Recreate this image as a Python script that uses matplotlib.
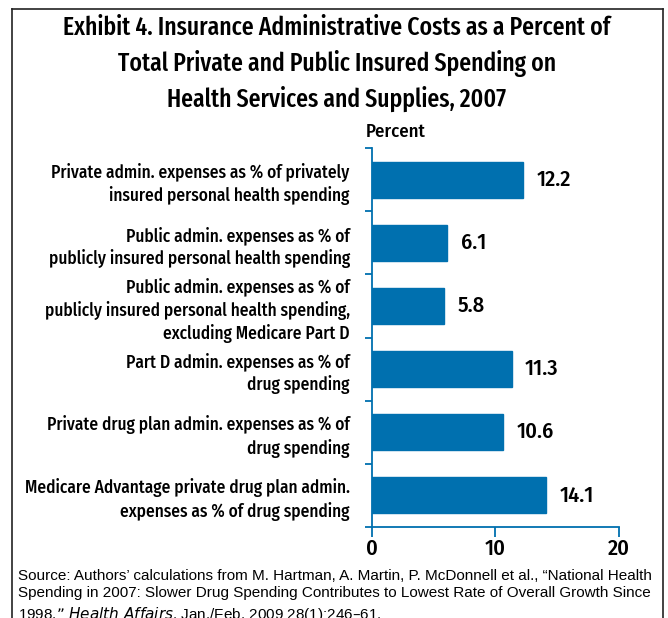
import matplotlib
matplotlib.use("Agg")
import matplotlib.pyplot as plt
from matplotlib.lines import Line2D

categories = [
    "Private admin. expenses as % of privately\ninsured personal health spending",
    "Public admin. expenses as % of\npublicly insured personal health spending",
    "Public admin. expenses as % of\npublicly insured personal health spending,\nexcluding Medicare Part D",
    "Part D admin. expenses as % of\ndrug spending",
    "Private drug plan admin. expenses as % of\ndrug spending",
    "Medicare Advantage private drug plan admin.\nexpenses as % of drug spending",
]
values = [12.2, 6.1, 5.8, 11.3, 10.6, 14.1]
value_labels = ["12.2", "6.1", "5.8", "11.3", "10.6", "14.1"]
xticks = [0, 10, 20]
title = ("Exhibit 4. Insurance Administrative Costs as a Percent of\n"
         "Total Private and Public Insured Spending on\n"
         "Health Services and Supplies, 2007")
source = ("Source: Authors\u2019 calculations from M. Hartman, A. Martin, P. McDonnell et al., \u201cNational Health\n"
          "Spending in 2007: Slower Drug Spending Contributes to Lowest Rate of Overall Growth Since\n"
          "1998,\u201d $\\it{Health\\ Affairs}$, Jan./Feb. 2009 28(1):246\u201361.")

BLUE = "#0070AF"
NARROW = ["Fira Sans Condensed", "DejaVu Sans"]
XNARROW = ["Fira Sans Extra Condensed", "Fira Sans Condensed", "DejaVu Sans"]

fig = plt.figure(figsize=(6.68, 6.18), dpi=100)
W, H = 668, 618

# frame
for xs, ys in [((12, 12), (9, 618)), ((12, 663), (9, 9)), ((663, 663), (9, 618))]:
    fig.add_artist(Line2D([x / W for x in xs], [1 - y / H for y in ys],
                          color="#222222", lw=1.2, transform=fig.transFigure))

ax = fig.add_axes([372 / W, 1 - 527 / H, (619 - 372) / W, (527 - 148) / H])
ypos = list(range(len(values)))
ax.barh(ypos, values, height=0.57, color=BLUE, edgecolor=BLUE)
ax.set_ylim(len(values) - 0.5, -0.5)
ax.set_xlim(0, 20)

for s in ["top", "right"]:
    ax.spines[s].set_visible(False)
for s in ["left", "bottom"]:
    ax.spines[s].set_color(BLUE)
    ax.spines[s].set_linewidth(1.3)

ax.set_yticks(ypos)
ax.set_yticklabels(categories, fontsize=12.5, fontweight=500, family=NARROW,
                   linespacing=1.3)
ax.tick_params(axis="y", which="major", length=0, pad=16)
ax.set_yticks([i - 0.5 for i in range(len(values) + 1)], minor=True)
ax.tick_params(axis="y", which="minor", length=5, color=BLUE, width=1.3, direction="out")

ax.set_xticks(xticks)
ax.set_xticklabels([str(t) for t in xticks], fontsize=16, fontweight=500, family=NARROW)
ax.tick_params(axis="x", length=7, color=BLUE, width=1.3, direction="out", pad=1)

for y, v, lab in zip(ypos, values, value_labels):
    ax.text(v + 1.1, y, lab, va="center", ha="left", fontsize=16, family=NARROW,
            fontweight=500)

fig.text(366 / W, 1 - 132 / H, "Percent", ha="left", va="center", fontsize=13.5,
         family=NARROW, fontweight=500)

fig.text(337 / W, 1 - 64 / H, title, ha="center", va="center", fontsize=18.5,
         family=XNARROW, fontweight=500, linespacing=1.45)

fig.text(18 / W, 1 - 569 / H, source, ha="left", va="top", fontsize=11,
         family=["Liberation Sans", "DejaVu Sans"], linespacing=1.3)

fig.savefig("out.png", dpi=100)
